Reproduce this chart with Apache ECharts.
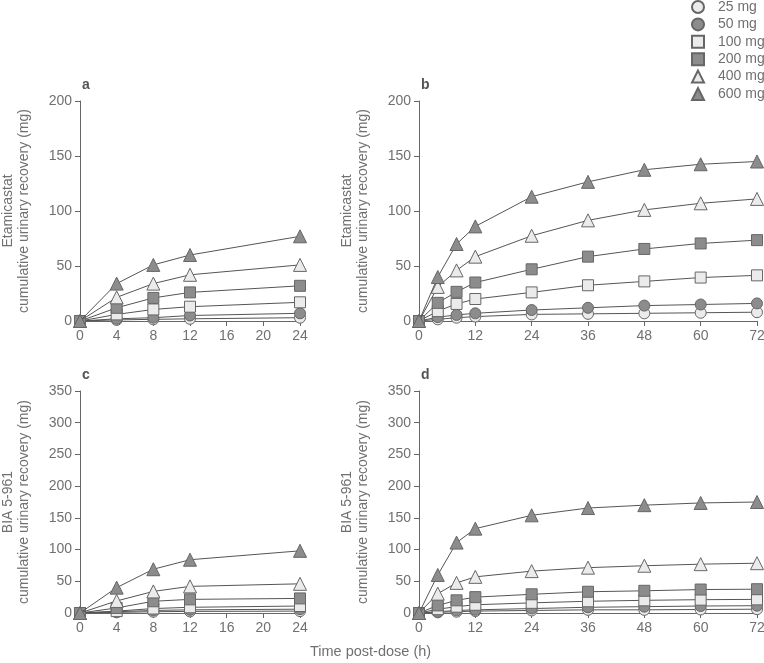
<!DOCTYPE html>
<html>
<head>
<meta charset="utf-8">
<title>Cumulative urinary recovery</title>
<script src="https://cdn.jsdelivr.net/npm/echarts@6/dist/echarts.min.js"></script>
<style>
  html, body { margin: 0; padding: 0; background: #fff; }
  #chart { width: 764px; height: 663px; }
</style>
</head>
<body>
<div id="chart"></div>
<script>
// --- data ---
const doses = ["25 mg", "50 mg", "100 mg", "200 mg", "400 mg", "600 mg"];
const times24 = [0, 4, 8, 12, 24];
const times72 = [0, 4, 8, 12, 24, 36, 48, 60, 72];

// panel a: etamicastat, 0-24 h
const etaDay1 = [
  [0, 1, 1.5, 2, 3],
  [0, 2, 3, 5, 7],
  [0, 6, 10.5, 13, 17],
  [0, 12, 21, 26, 32],
  [0, 21.5, 34, 42, 51],
  [0, 34, 51, 60, 77],
];
// panel b: etamicastat, 0-72 h
const etaDay3 = [
  [0, 1.5, 3, 4, 6, 6.5, 7, 7.5, 8],
  [0, 3.5, 5.5, 7, 10, 12, 14, 15, 16],
  [0, 9, 15.5, 20, 26, 32.5, 36, 39.5, 41.5],
  [0, 16.5, 26.5, 35, 47, 58.5, 65.5, 70.5, 73.5],
  [0, 31, 46, 58.5, 77.5, 91.5, 101, 107, 111],
  [0, 40, 70, 86, 113, 126.5, 137.5, 142.5, 145],
];
// panel c: BIA 5-961, 0-24 h
const biaDay1 = [
  [0, 1, 2, 2.5, 3],
  [0, 2, 4, 5, 6],
  [0, 3, 7, 9, 11],
  [0, 8, 18.5, 21.5, 23],
  [0, 19, 34, 42, 46],
  [0, 40, 69, 84, 98],
];
// panel d: BIA 5-961, 0-72 h
const biaDay3 = [
  [0, 1, 2, 3, 4, 5, 5, 5.5, 6],
  [0, 2, 4, 5, 7, 9, 10, 11, 11.5],
  [0, 6, 10, 13, 16, 18.5, 20, 21, 21.5],
  [0, 12, 20, 25, 29.5, 33.5, 35, 37, 37.5],
  [0, 30.5, 47.5, 57, 66, 71.5, 74.5, 77, 78.5],
  [0, 60, 111, 133, 154, 165.5, 170, 173.5, 175],
];

const yTicksEta = { max: 200, interval: 50 };
const yTicksBia = { max: 350, interval: 50 };

// --- styles ---
const symbols = ["circle", "circle", "rect", "rect", "triangle", "triangle"];
const fills = ["#ebebeb", "#8c8c8c", "#ebebeb", "#8c8c8c", "#ebebeb", "#8c8c8c"];
const symbolSizes = [11, 11, 11, 11, 13, 13];
const axisColor = "#666";
const textColor = "#707070";
const font = "Liberation Sans, Arial, sans-serif";

const panels = [
  { letter: "a", times: times24, rows: etaDay1, xMax: 24, xInt: 4, y: yTicksEta, name: "Etamicastat\ncumulative urinary recovery (mg)" },
  { letter: "b", times: times72, rows: etaDay3, xMax: 72, xInt: 12, y: yTicksEta, name: "Etamicastat\ncumulative urinary recovery (mg)" },
  { letter: "c", times: times24, rows: biaDay1, xMax: 24, xInt: 4, y: yTicksBia, name: "BIA 5-961\ncumulative urinary recovery (mg)" },
  { letter: "d", times: times72, rows: biaDay3, xMax: 72, xInt: 12, y: yTicksBia, name: "BIA 5-961\ncumulative urinary recovery (mg)" },
];

// fixed pixel boxes, no auto-fitting of labels
const grids = [
  { left: 80, right: 464, top: 101, bottom: 342, outerBoundsMode: "none" },
  { left: 419, right: 7, top: 101, bottom: 342, outerBoundsMode: "none" },
  { left: 80, right: 464, top: 391, bottom: 50, outerBoundsMode: "none" },
  { left: 419, right: 7, top: 391, bottom: 50, outerBoundsMode: "none" },
];

const axisLabel = { color: textColor, fontSize: 14, fontFamily: font, margin: 8 };

const xAxis = panels.map((p, i) => ({
  type: "value",
  gridIndex: i,
  min: 0,
  max: p.xMax,
  interval: p.xInt,
  axisLine: { show: true, lineStyle: { color: axisColor, width: 1 } },
  axisTick: { show: true, length: 5, lineStyle: { color: axisColor } },
  axisLabel: axisLabel,
  splitLine: { show: false },
}));

const yAxis = panels.map((p, i) => ({
  type: "value",
  gridIndex: i,
  min: 0,
  max: p.y.max,
  interval: p.y.interval,
  name: p.name,
  nameLocation: "middle",
  nameRotate: 90,
  nameGap: 48,
  nameTextStyle: { color: textColor, fontSize: 14, fontFamily: font, lineHeight: 16 },
  axisLine: { show: true, lineStyle: { color: axisColor, width: 1 } },
  axisTick: { show: true, length: 5, lineStyle: { color: axisColor } },
  axisLabel: axisLabel,
  splitLine: { show: false },
}));

const series = [];
panels.forEach((p, i) => {
  doses.forEach((dose, d) => {
    series.push({
      name: dose,
      type: "line",
      xAxisIndex: i,
      yAxisIndex: i,
      data: p.times.map((t, k) => [t, p.rows[d][k]]),
      symbol: symbols[d],
      symbolSize: symbolSizes[d],
      showAllSymbol: true,
      lineStyle: { color: "#555", width: 1 },
      itemStyle: { color: fills[d], borderColor: "#666", borderWidth: 1 },
      z: 2 + d,
      animation: false,
    });
  });
});

const chart = echarts.init(document.getElementById("chart"));
chart.setOption({
  backgroundColor: "#fff",
  animation: false,
  title: panels.map((p, i) => ({
    text: p.letter,
    left: grids[i].left - 3,
    top: grids[i].top - 28,
    textStyle: { color: "#555", fontSize: 14, fontWeight: "bold", fontFamily: font },
  })),
  legend: {
    orient: "vertical",
    left: 691,
    top: 0,
    padding: 0,
    itemWidth: 12,
    itemHeight: 12,
    itemGap: 3.4,
    textStyle: { color: textColor, fontSize: 14, fontFamily: font, lineHeight: 12, padding: [0, 0, 0, 9] },
    data: doses.map((d, k) => ({ name: d, icon: symbols[k] })),
  },
  grid: grids,
  xAxis: xAxis,
  yAxis: yAxis,
  series: series,
  graphic: [
    {
      type: "text",
      left: 310,
      top: 644,
      style: { text: "Time post-dose (h)", fill: textColor, fontSize: 14.5, fontFamily: font },
    },
  ],
});
</script>
</body>
</html>
